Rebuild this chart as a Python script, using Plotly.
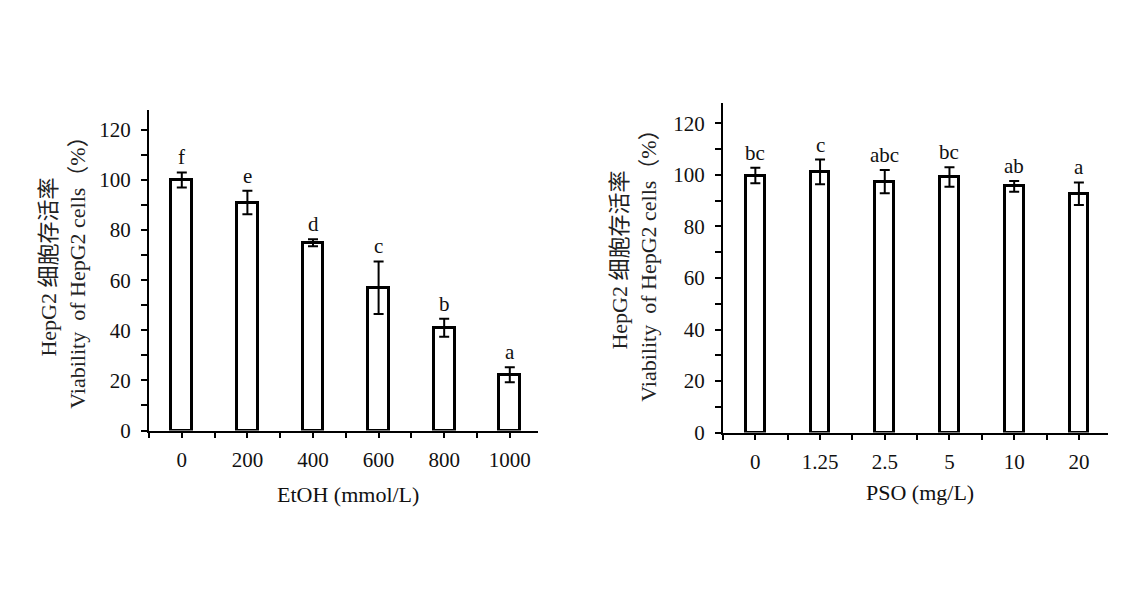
"""HepG2 viability bar charts: EtOH dose (left) and PSO dose (right)."""

import plotly.graph_objects as go

W, H = 1137, 597
Y_FIX = 0.981  # the photographed page comes out slightly squashed vertically
FONT = 'Liberation Serif, "Times New Roman", "Noto Sans CJK SC", serif'
INK = '#111111'

# left panel: EtOH
etoh_labels = ['0', '200', '400', '600', '800', '1000']
etoh_mean = [100, 91, 75, 57, 41, 22.3]
etoh_err = [3, 4.7, 1.4, 10.5, 3.6, 3]
etoh_letters = ['f', 'e', 'd', 'c', 'b', 'a']

# right panel: PSO
pso_labels = ['0', '1.25', '2.5', '5', '10', '20']
pso_mean = [99.8, 101.2, 97.4, 99.2, 95.6, 92.7]
pso_err = [3, 4.8, 4.5, 3.8, 2.1, 4.4]
pso_letters = ['bc', 'c', 'abc', 'bc', 'ab', 'a']

y_major = [0, 20, 40, 60, 80, 100, 120]


def px_x(p):
    return p / W


def px_y(p):
    return 1 - (p / Y_FIX) / H


def add_panel(fig, n, labels, means, errs, letters, bar_width, xdom, ydom, xmax, xtitle, xtitle_pos, ytitle_pos):
    xa = 'x' if n == 1 else f'x{n}'
    ya = 'y' if n == 1 else f'y{n}'
    pos = list(range(len(labels)))
    fig.add_trace(go.Bar(
        x=pos, y=means, width=bar_width,
        marker=dict(color='white', line=dict(color='black', width=3)),
        error_y=dict(type='data', array=errs, color='black', thickness=2, width=5),
        xaxis=xa, yaxis=ya, showlegend=False,
    ))
    for p, m, e, t in zip(pos, means, errs, letters):
        fig.add_annotation(x=p, y=m + e, xref=xa, yref=ya, text=t, showarrow=False,
                           yanchor='bottom', yshift=1, font=dict(family=FONT, size=21, color=INK))

    # ticks at bar centres (labelled) and between bars (blank)
    tickvals, ticktext = [], []
    for p, lab in zip(pos, labels):
        tickvals += [p - 0.5, p]
        ticktext += ['', lab]
    tickvals.append(pos[-1] + 0.5)
    ticktext.append('')

    axis_font = dict(family=FONT, size=21, color=INK)
    xkey = 'xaxis' if n == 1 else f'xaxis{n}'
    ykey = 'yaxis' if n == 1 else f'yaxis{n}'
    fig.update_layout({
        xkey: dict(domain=xdom, anchor=ya, range=[-0.5, xmax], tickmode='array',
                   tickvals=tickvals, ticktext=ticktext, ticks='outside', ticklen=5,
                   tickwidth=2, tickcolor='black', showline=True, linecolor='black',
                   linewidth=2, showgrid=False, zeroline=False, tickfont=axis_font,
                   ticklabelstandoff=4),
        ykey: dict(domain=ydom, anchor=xa, range=[0, 128], tickmode='array',
                   tickvals=y_major, ticks='outside', ticklen=6, tickwidth=2,
                   tickcolor='black', showline=True, linecolor='black', linewidth=2,
                   showgrid=False, zeroline=False, tickfont=axis_font,
                   minor=dict(dtick=10, tick0=0, ticks='outside', ticklen=6,
                              tickwidth=2, tickcolor='black', showgrid=False),
                   ticklabelstandoff=6),
    })

    fig.add_annotation(x=px_x(xtitle_pos[0]), y=px_y(xtitle_pos[1]), xref='paper', yref='paper',
                       text=xtitle, showarrow=False, xanchor='center', yanchor='middle',
                       font=dict(family=FONT, size=22, color=INK))
    fig.add_annotation(x=px_x(ytitle_pos[0]), y=px_y(ytitle_pos[1]), xref='paper', yref='paper',
                       text='HepG2 细胞存活率<br>Viability  of HepG2 cells（%）', showarrow=False,
                       textangle=-90, xanchor='center', yanchor='middle',
                       font=dict(family=FONT, size=22, color='#222222'))


fig = go.Figure()
add_panel(fig, 1, etoh_labels, etoh_mean, etoh_err, etoh_letters, 0.32,
          [px_x(149), px_x(538)], [px_y(431), px_y(110)], 5.43,
          'EtOH (mmol/L)', (348, 495), (63, 268))
add_panel(fig, 2, pso_labels, pso_mean, pso_err, pso_letters, 0.29,
          [px_x(723), px_x(1108)], [px_y(433), px_y(103)], 5.45,
          'PSO (mg/L)', (920, 493), (634, 261))

fig.update_layout(
    width=W, height=H,
    margin=dict(l=0, r=0, t=0, b=0),
    paper_bgcolor='white', plot_bgcolor='white',
    bargap=0,
)

# drop the browser's default page margin so the figure sits at the window origin
fig.write_html("out.html", config={'displayModeBar': False},
               post_script="document.body.style.margin = '0';")
